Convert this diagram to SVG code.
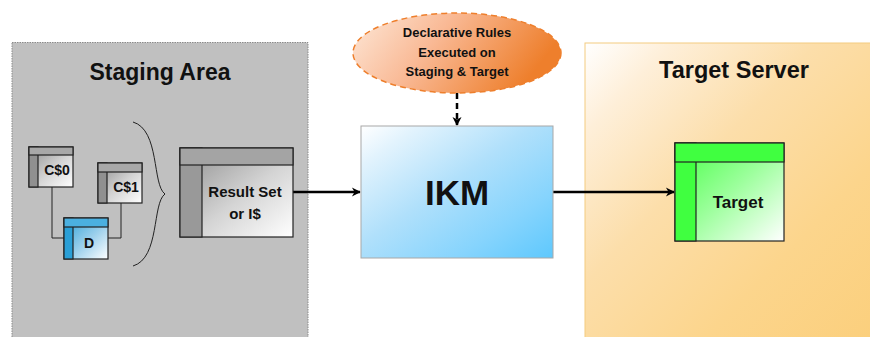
<svg xmlns="http://www.w3.org/2000/svg" width="870" height="337" viewBox="0 0 870 337">
<defs>
<linearGradient id="gGray" x1="0" y1="0" x2="1" y2="1"><stop offset="0" stop-color="#8c8c8c"/><stop offset="0.55" stop-color="#d4d4d4"/><stop offset="1" stop-color="#ffffff"/></linearGradient>
<linearGradient id="gBlueT" x1="0" y1="0" x2="1" y2="1"><stop offset="0" stop-color="#2a9fd6"/><stop offset="0.55" stop-color="#9cd0ec"/><stop offset="1" stop-color="#ffffff"/></linearGradient>
<linearGradient id="gGreen" x1="0" y1="0" x2="1" y2="1"><stop offset="0" stop-color="#44ff44"/><stop offset="0.5" stop-color="#9cff9c"/><stop offset="1" stop-color="#ffffff"/></linearGradient>
<linearGradient id="gIKM" x1="0" y1="0" x2="1" y2="1"><stop offset="0" stop-color="#ffffff"/><stop offset="0.15" stop-color="#e2f3fd"/><stop offset="0.45" stop-color="#b0e0fb"/><stop offset="0.75" stop-color="#86d4fd"/><stop offset="1" stop-color="#5ec8fd"/></linearGradient>
<linearGradient id="gTS" x1="0" y1="0" x2="1" y2="1"><stop offset="0" stop-color="#ffffff"/><stop offset="0.15" stop-color="#feefd9"/><stop offset="0.4" stop-color="#fcdeaa"/><stop offset="0.7" stop-color="#fcd58c"/><stop offset="1" stop-color="#fbcf7c"/></linearGradient>
<linearGradient id="gOval" x1="0" y1="0" x2="1" y2="0.3"><stop offset="0" stop-color="#fde8d8"/><stop offset="0.45" stop-color="#f9b995"/><stop offset="1" stop-color="#ee7f2c"/></linearGradient>
<marker id="arr" viewBox="0 0 10 10" refX="9" refY="5" markerWidth="9" markerHeight="9" orient="auto" markerUnits="userSpaceOnUse" overflow="visible"><path d="M0,0 L10,5 L0,10 L3,5 Z" fill="#000"/></marker>
</defs>
<style>
.t{font-family:"Liberation Sans",Arial,sans-serif;font-weight:bold;fill:#111;text-anchor:middle}
.tb{stroke:#222;stroke-width:1.2}
.ln{stroke:#222;stroke-width:1;fill:none}
.conn{stroke:#000;stroke-width:2.5;fill:none}
</style>
<rect width="870" height="337" fill="#fff"/>

<g id="staging-area">
<rect x="12" y="42.5" width="296" height="300" fill="#c0c0c0" stroke="#8a8a8a" stroke-width="1" stroke-dasharray="1.5,1"/>
<text class="t" x="160" y="80" font-size="23">Staging Area</text>
</g>

<g id="target-server">
<rect x="585" y="43" width="290" height="300" fill="url(#gTS)" stroke="#f3cb80" stroke-width="1"/>
<text class="t" x="734" y="78" font-size="23.5">Target Server</text>
</g>

<g id="connectors">
<polyline class="ln" points="52,187 52,238 64,238"/>
<polyline class="ln" points="121,203 121,238 108,238"/>
<path class="ln" d="M133,122 C160,130 152,185 165,194 C152,203 160,258 133,266"/>
<line class="conn" x1="293" y1="192" x2="360" y2="192" marker-end="url(#arr)"/>
<line class="conn" x1="553" y1="192" x2="674" y2="192" marker-end="url(#arr)"/>
<line class="conn" x1="457" y1="93" x2="457" y2="125" stroke-width="3" stroke-dasharray="6,4" marker-end="url(#arr)"/>
</g>

<g id="c0">
<rect x="29" y="147" width="44" height="40" fill="url(#gGray)" class="tb"/>
<rect x="29" y="147" width="9" height="40" fill="#909090" class="tb"/>
<rect x="29" y="147" width="44" height="8" fill="#a8a8a8" class="tb"/>
<text class="t" x="57" y="175" font-size="14">C$0</text>
</g>

<g id="c1">
<rect x="98" y="163" width="44" height="40" fill="url(#gGray)" class="tb"/>
<rect x="98" y="163" width="9" height="40" fill="#909090" class="tb"/>
<rect x="98" y="163" width="44" height="9" fill="#a8a8a8" class="tb"/>
<text class="t" x="126" y="192" font-size="14">C$1</text>
</g>

<g id="d">
<rect x="64" y="218" width="44" height="41" fill="url(#gBlueT)" class="tb"/>
<rect x="64" y="218" width="9" height="41" fill="#2a9fd6" class="tb"/>
<rect x="64" y="218" width="44" height="9" fill="#4bb0e0" class="tb"/>
<text class="t" x="89" y="248" font-size="14">D</text>
</g>

<g id="result-set">
<rect x="180" y="148" width="113" height="89" fill="url(#gGray)" class="tb"/>
<rect x="180" y="148" width="22" height="89" fill="#999999" class="tb"/>
<rect x="180" y="148" width="113" height="17" fill="#a4a4a4" class="tb"/>
<text class="t" x="245" y="197" font-size="15">Result Set</text>
<text class="t" x="245" y="219" font-size="15">or I$</text>
</g>

<g id="ikm">
<rect x="361" y="126" width="192" height="132" fill="url(#gIKM)" stroke="#a8a8a8" stroke-width="1"/>
<text class="t" x="457" y="205" font-size="35">IKM</text>
</g>

<g id="rules">
<ellipse cx="457" cy="53" rx="104" ry="40" fill="url(#gOval)" stroke="#ee7f2c" stroke-width="1.5" stroke-dasharray="6,4"/>
<text class="t" x="457" y="37" font-size="13">Declarative Rules</text>
<text class="t" x="457" y="57" font-size="13">Executed on</text>
<text class="t" x="457" y="76" font-size="13">Staging &amp; Target</text>
</g>

<g id="target">
<rect x="675" y="143" width="109" height="98" fill="url(#gGreen)" class="tb"/>
<rect x="675" y="143" width="21" height="98" fill="#40ff40" class="tb"/>
<rect x="675" y="143" width="109" height="19" fill="#40ff40" class="tb"/>
<text class="t" x="738" y="208" font-size="17">Target</text>
</g>
</svg>
